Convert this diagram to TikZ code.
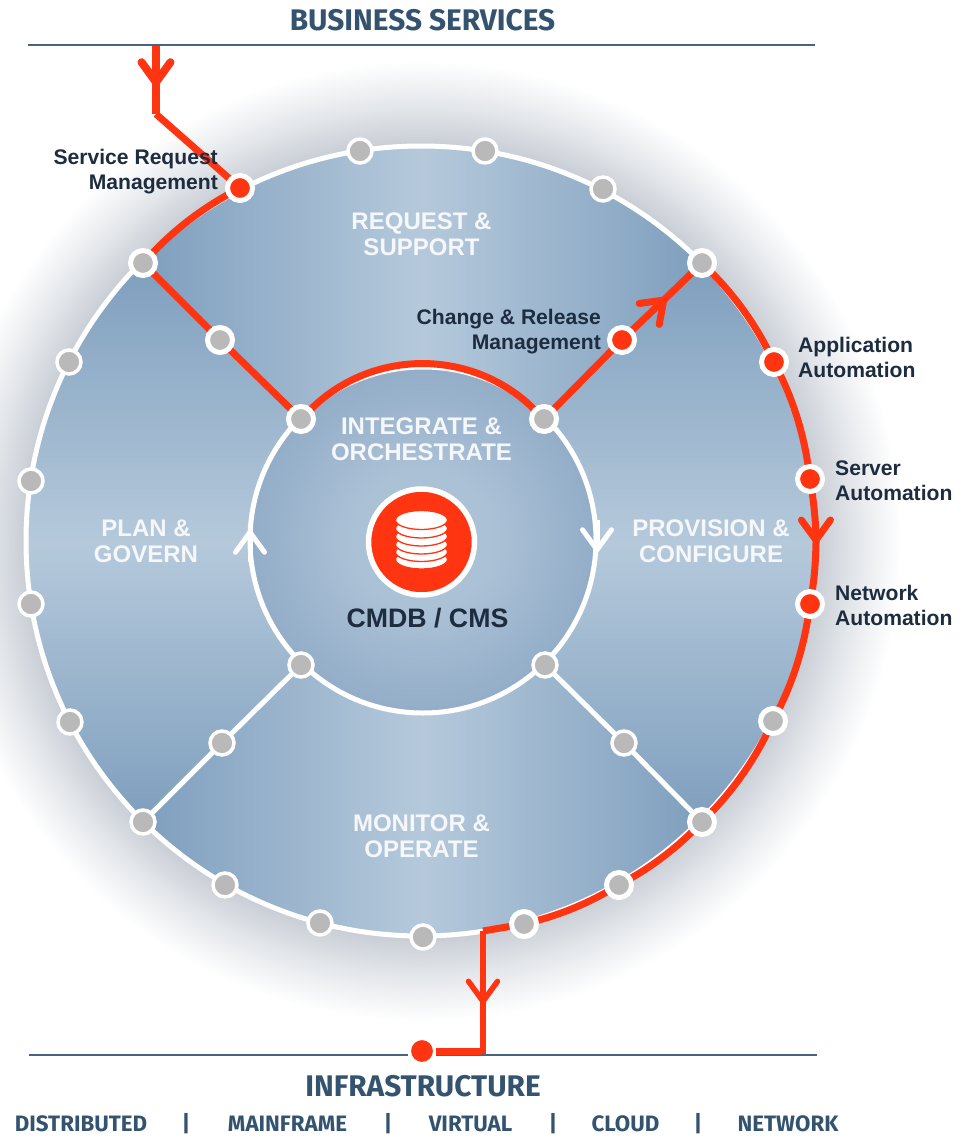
\documentclass[tikz,border=0pt]{standalone}
\usepackage{fontspec}
\setmainfont{Liberation Sans}
\newfontfamily\titlefont{Fira Sans}
\usetikzlibrary{arrows.meta,backgrounds}

\definecolor{flowred}{HTML}{FF3512}
\definecolor{stopgray}{HTML}{B9B9B9}
\definecolor{ruleblue}{HTML}{4A6480}
\definecolor{titleblue}{HTML}{34536F}
\definecolor{labelink}{HTML}{1D2C3E}
\definecolor{wedgedark}{HTML}{7F9FBE}
\definecolor{wedgelight}{HTML}{B5C9DB}
\definecolor{labelwhite}{HTML}{F5F7FA}
\definecolor{haloedge}{HTML}{C8CDD5}
\definecolor{halomid}{HTML}{E3E6EA}
\definecolor{diskmid}{HTML}{ABC1D6}
\definecolor{diskedge}{HTML}{93ADC8}

% halo behind the big ring, fades out at radius 480
\pgfdeclareradialshading{halo}{\pgfpointorigin}{%
  color(0bp)=(haloedge); color(20.6bp)=(haloedge);
  color(22.6bp)=(halomid); color(25bp)=(white); color(50bp)=(white)}
% inner disk, lighter in the middle
\pgfdeclareradialshading{hubdisk}{\pgfpointorigin}{%
  color(0bp)=(diskmid); color(10bp)=(diskmid);
  color(25bp)=(diskedge); color(50bp)=(diskedge)}

\tikzset{
  stopbig/.style={circle,draw=white,line width=5pt,fill=stopgray,minimum size=25pt,inner sep=0pt,outer sep=0pt},
  stopsmall/.style={circle,draw=white,line width=3.5pt,fill=stopgray,minimum size=24pt,inner sep=0pt,outer sep=0pt},
  stopred/.style={stopbig,fill=flowred},
  ringline/.style={draw=white,line width=5pt},
  flowline/.style={draw=flowred,line width=7pt},
  flowtip/.style={flowline,-{Straight Barb[length=20pt,width=29pt,line cap=round]}},
  aftertip/.style={flowline,shorten <=-12pt},
  whitetip/.style={ringline,-{Straight Barb[length=20pt,width=29pt,line cap=round]}},
  titlelabel/.style={text=titleblue,font=\titlefont\bfseries\fontsize{29.8}{34}\selectfont,inner sep=0pt},
  subtitle/.style={text=titleblue,font=\titlefont\bfseries\fontsize{22.3}{26}\selectfont,inner sep=0pt,anchor=base},
  sidelabel/.style={text=labelink,font=\bfseries\fontsize{21.1}{25}\selectfont,inner sep=0pt},
  zonelabel/.style={text=labelwhite,font=\bfseries\fontsize{24}{26}\selectfont,align=center,inner sep=0pt},
}

\begin{document}
\begin{tikzpicture}[x=1pt,y=-1pt]
    \useasboundingbox (0,0) rectangle (963,1137);

    % Stops on the outer ring
    \foreach \name/\x/\y in {tl/143/263,tr/702/263,br/702/822,bot4/524/924,bot5/619/885,right4/773/721}
        \node[stopbig] (\name) at (\x,\y) {};
    \foreach \name/\x/\y in {top1/360/151,top2/485/151,top3/603/189,left1/69/362,left2/31/481,left3/31/604,left4/70/722,
                             bl/143/822,bot1/225/885,bot2/320/923,bot3/423/937}
        \node[stopsmall] (\name) at (\x,\y) {};
    \node[stopred] (srm) at (240,188) {};
    \node[stopred] (appauto) at (774,362) {};
    \node[stopred] (srvauto) at (810,479) {};
    \node[stopred] (netauto) at (810,604) {};

    % Stops on the spokes and the inner ring
    \node[stopbig] (sptl) at (220,340) {};
    \node[stopred] (chg) at (622,340) {};
    \node[stopsmall] (spbl) at (222,743) {};
    \node[stopsmall] (spbr) at (624,743) {};
    \node[stopbig] (itl) at (301,419) {};
    \node[stopbig] (itr) at (544,419) {};
    \node[stopsmall] (ibl) at (301,665) {};
    \node[stopsmall] (ibr) at (545,665) {};

    % Free ends of the flow and the arrow points
    \coordinate (hub) at (422,541);
    \coordinate (bizstart) at (156,44);
    \coordinate (bizhead) at (156,89);
    \coordinate (bizknee) at (156,114);
    \coordinate (chghead) at (668,296);
    \coordinate (srvhead) at (816,546);
    \coordinate (ringexit) at (483,931);
    \coordinate (infrahead) at (483,1006);
    \coordinate (infrafoot) at (483,1054.5);
    \coordinate (infraknee) at (480.5,1051);
    \coordinate (whitedown) at (597,554);
    \coordinate (whitedownfrom) at (597,520);
    \coordinate (whiteup) at (250,528);
    \coordinate (whiteupfrom) at (250,562);
    \coordinate (gapL) at (408,1055);
    \coordinate (gapR) at (436,1055);

    \begin{pgfonlayer}{background}
        % Halo
        \begin{scope}
            \clip (0,0) rectangle (963,1137);
            \shade[shading=halo] (421,541) circle[radius=480];
        \end{scope}

        % Four wedges of the disk
        \begin{scope}
            \clip (421,541) circle[radius=395];
            \shade[left color=wedgedark,right color=wedgedark,middle color=wedgelight]
                (hub) -- (143,263) -- (143,140) -- (702,140) -- (702,263) -- cycle;
            \shade[left color=wedgedark,right color=wedgedark,middle color=wedgelight]
                (hub) -- (143,822) -- (143,945) -- (702,945) -- (702,822) -- cycle;
            \shade[top color=wedgedark,bottom color=wedgedark,middle color=wedgelight]
                (hub) -- (143,263) -- (20,263) -- (20,822) -- (143,822) -- cycle;
            \shade[top color=wedgedark,bottom color=wedgedark,middle color=wedgelight]
                (hub) -- (702,263) -- (825,263) -- (825,822) -- (702,822) -- cycle;
        \end{scope}
        \node[circle,ringline,shading=hubdisk,minimum size=346pt] (innerring) at (423,540) {};
        \node[circle,ringline,minimum size=790pt] (outerring) at (421,541) {};

        % White spokes
        \draw[ringline] (bl) -- (spbl) -- (ibl);
        \draw[ringline] (br) -- (spbr) -- (ibr);
        \draw[whitetip] (whitedownfrom) -- (whitedown);
        \draw[whitetip] (whiteupfrom) -- (whiteup);

        % Red flow
        \draw[flowtip,line width=8pt] (bizstart) -- (bizhead);
        \draw[aftertip,line width=8pt] (bizhead) -- (bizknee);
        \draw[flowline] (bizknee) -- (srm);
        \draw[flowline] (srm) to[bend right=9,looseness=0.85] (tl);
        \draw[flowline] (tl) -- (sptl) -- (itl);
        \draw[flowline] (itl) to[bend left=45] (itr);
        \draw[flowline] (itr) -- (chg);
        \draw[flowtip] (chg) -- (chghead);
        \draw[aftertip] (chghead) -- (tr);
        \draw[flowline] (tr) to[bend left=9,looseness=0.85] (appauto);
        \draw[flowline] (appauto) to[bend left=9,looseness=0.85] (srvauto);
        \draw[flowtip] (srvauto) to[bend left=4,looseness=0.85] (srvhead);
        \draw[aftertip] (srvhead) to[bend left=4,looseness=0.85] (netauto);
        \draw[flowline] (netauto) to[bend left=9,looseness=0.85] (right4);
        \draw[flowline] (right4) to[bend left=9,looseness=0.85] (br);
        \draw[flowline] (br) to[bend left=7.5,looseness=0.85] (bot5);
        \draw[flowline] (bot5) to[bend left=7.5,looseness=0.85] (bot4);
        \draw[flowline] (bot4) -- (ringexit);
        \draw[flowtip,line width=5.5pt] (ringexit) -- (infrahead);
        \draw[aftertip,line width=5.5pt] (infrahead) -- (infrafoot);

        % Rules
        \draw[ruleblue,line width=2pt] (28,45) -- (815,45);
        \draw[ruleblue,line width=2pt] (29,1055) -- (gapL);
        \draw[ruleblue,line width=2pt] (gapR) -- (817,1055);
    \end{pgfonlayer}

    % End of the flow
    \node[circle,draw=white,line width=3pt,fill=flowred,minimum size=25pt,inner sep=0pt] (infradot) at (422,1051) {};
    \draw[flowline] (infraknee) -- (infradot);

    % CMDB icon
    \node[circle,draw=white,line width=5.5pt,fill=flowred,minimum size=106pt,inner sep=0pt] (cmdb) at (421.5,542) {};
    \foreach \y in {559.5,552,544.5,536.5,528.5,520}
        \draw[draw=flowred,fill=white,line width=1.3pt] (421.5,\y) ellipse[x radius=26,y radius=9.5];

    % Labels
    \node[titlelabel] (business) at (422.5,20) {BUSINESS SERVICES};
    \node[titlelabel] (infra) at (423,1086) {INFRASTRUCTURE};
    \node[subtitle] (distributed) at (81,1131.5) {DISTRIBUTED};
    \node[subtitle] (sep1) at (186,1131.5) {|};
    \node[subtitle] (mainframe) at (287.5,1131.5) {MAINFRAME};
    \node[subtitle] (sep2) at (388,1131.5) {|};
    \node[subtitle] (virtual) at (470.5,1131.5) {VIRTUAL};
    \node[subtitle] (sep3) at (553,1131.5) {|};
    \node[subtitle] (cloud) at (625.5,1131.5) {CLOUD};
    \node[subtitle] (sep4) at (698,1131.5) {|};
    \node[subtitle] (network) at (788,1131.5) {NETWORK};

    \node[zonelabel] (request) at (421.5,234) {REQUEST \&\\SUPPORT};
    \node[zonelabel] (plan) at (146,541) {PLAN \&\\GOVERN};
    \node[zonelabel] (provision) at (711,541) {PROVISION \&\\CONFIGURE};
    \node[zonelabel] (monitor) at (421.5,836) {MONITOR \&\\OPERATE};
    \node[zonelabel] (integrate) at (421.5,439) {INTEGRATE \&\\ORCHESTRATE};
    \node[text=labelink,font=\bfseries\fontsize{26.7}{30}\selectfont,inner sep=0pt] (cmdblabel) at (427.5,618) {CMDB / CMS};

    \node[sidelabel,align=right,anchor=east] (srmlabel) at (218,171.5) {Service Request\\Management};
    \node[sidelabel,align=right,anchor=east] (chglabel) at (601,331.5) {Change \& Release\\Management};
    \node[sidelabel,align=left,anchor=west] (applabel) at (798,357) {Application\\Automation};
    \node[sidelabel,align=left,anchor=west] (srvlabel) at (835,480.5) {Server\\Automation};
    \node[sidelabel,align=left,anchor=west] (netlabel) at (835,605) {Network\\Automation};
\end{tikzpicture}
\end{document}
